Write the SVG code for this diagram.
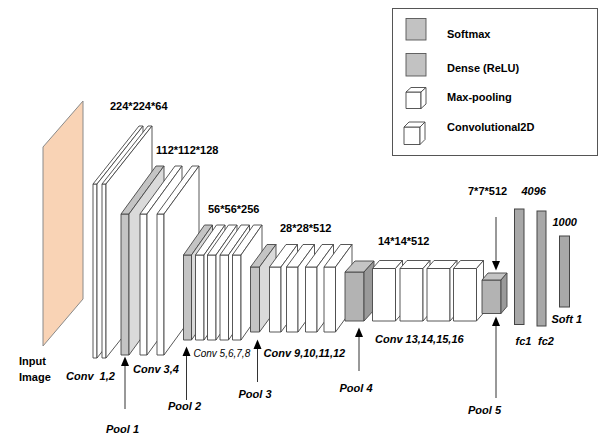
<svg xmlns="http://www.w3.org/2000/svg" width="605" height="435" viewBox="0 0 605 435">
<defs>
<style>
text{font-family:"Liberation Sans",Arial,sans-serif;font-size:11px;font-weight:bold;fill:#000}
.it{font-style:italic}
.thin{font-weight:normal;font-size:10px}
.pre{white-space:pre}
.s{stroke:#454545;stroke-width:0.9;stroke-linejoin:round}
.w{fill:#fff}
.g{fill:#c4c4c4}
.gs{fill:#dadada}
.p{fill:#b3b3b3}
.pt{fill:#c4c4c4}
.ps{fill:#9a9a9a}
.fc{fill:#a8a8a8;stroke:#444;stroke-width:1}
.arr line{stroke:#333;stroke-width:1}
.arr polygon{fill:#000}
</style>
</defs>
<rect width="605" height="435" fill="#fff"/>

<g id="legend">
<rect x="392.5" y="8.5" width="205" height="147" fill="#fff" stroke="#555" stroke-width="1"/>
<rect x="406" y="18.5" width="20" height="21.5" fill="#c2c2c2" stroke="#555" stroke-width="0.9"/>
<text x="447" y="38">Softmax</text>
<rect x="406" y="53.5" width="20" height="22.5" fill="#c2c2c2" stroke="#555" stroke-width="0.9"/>
<text x="447" y="71.5">Dense (ReLU)</text>
<g class="s">
<rect class="w" x="406" y="92" width="15" height="16.5"/>
<polygon class="w" points="406,92 421,92 426,87.5 411,87.5"/>
<polygon class="w" points="421,92 426,87.5 426,104 421,108.5"/>
</g>
<text x="447" y="100.5">Max-pooling</text>
<g class="s">
<rect class="w" x="404" y="127" width="16" height="17.5"/>
<polygon class="w" points="404,127 420,127 425,122 409,122"/>
<polygon class="w" points="420,127 425,122 425,139.5 420,144.5"/>
</g>
<text x="447" y="130.5">Convolutional2D</text>
</g>

<g id="input-image">
<polygon points="43,147 83,101 83,299 43,346" fill="#f9d3b5" stroke="#8a8a8a" stroke-width="1"/>
<text x="19" y="365">Input</text>
<text x="19" y="381">Image</text>
</g>

<g id="conv1-2" class="s">
<rect class="w" x="93" y="184" width="4" height="174"/>
<polygon class="w" points="93,184 97,184 143,126 139,126"/>
<polygon class="w" points="97,184 143,126 143,300 97,358"/>
<rect class="w" x="102" y="184" width="4" height="174"/>
<polygon class="w" points="102,184 106,184 152,126 148,126"/>
<polygon class="w" points="106,184 152,126 152,300 106,358"/>
</g>

<g id="conv3-4" class="s">
<rect class="g" x="121" y="214" width="8" height="141"/>
<polygon class="g" points="121,214 129,214 164,166 156,166"/>
<polygon class="gs" points="129,214 164,166 164,307 129,355"/>
<rect class="w" x="140" y="214" width="7" height="141"/>
<polygon class="w" points="140,214 147,214 182,166 175,166"/>
<polygon class="w" points="147,214 182,166 182,307 147,355"/>
<rect class="w" x="157" y="214" width="7" height="141"/>
<polygon class="w" points="157,214 164,214 199,166 192,166"/>
<polygon class="w" points="164,214 199,166 199,307 164,355"/>
</g>

<g id="conv5-8" class="s">
<rect class="g" x="183.5" y="255" width="8" height="85"/>
<polygon class="g" points="183.5,255 191.5,255 212.5,225 204.5,225"/>
<polygon class="gs" points="191.5,255 212.5,225 212.5,310 191.5,340"/>
<rect class="w" x="195.5" y="255" width="8.5" height="85"/>
<polygon class="w" points="195.5,255 204,255 225,225 216.5,225"/>
<polygon class="w" points="204,255 225,225 225,310 204,340"/>
<rect class="w" x="207.5" y="255" width="8.5" height="85"/>
<polygon class="w" points="207.5,255 216,255 237,225 228.5,225"/>
<polygon class="w" points="216,255 237,225 237,310 216,340"/>
<rect class="w" x="220" y="255" width="8.5" height="85"/>
<polygon class="w" points="220,255 228.5,255 249.5,225 241,225"/>
<polygon class="w" points="228.5,255 249.5,225 249.5,310 228.5,340"/>
<rect class="w" x="232.5" y="255" width="8.5" height="85"/>
<polygon class="w" points="232.5,255 241,255 262,225 253.5,225"/>
<polygon class="w" points="241,255 262,225 262,310 241,340"/>
</g>

<g id="conv9-12" class="s">
<rect class="g" x="250.5" y="267" width="9" height="65"/>
<polygon class="g" points="250.5,267 259.5,267 276,244.5 267,244.5"/>
<polygon class="gs" points="259.5,267 276,244.5 276,309.5 259.5,332"/>
<rect class="w" x="269.5" y="267" width="11.5" height="65"/>
<polygon class="w" points="269.5,267 281,267 297.5,244.5 286,244.5"/>
<polygon class="w" points="281,267 297.5,244.5 297.5,309.5 281,332"/>
<rect class="w" x="286.5" y="267" width="11.5" height="65"/>
<polygon class="w" points="286.5,267 298,267 314.5,244.5 303,244.5"/>
<polygon class="w" points="298,267 314.5,244.5 314.5,309.5 298,332"/>
<rect class="w" x="305.5" y="267" width="11.5" height="65"/>
<polygon class="w" points="305.5,267 317,267 333.5,244.5 322,244.5"/>
<polygon class="w" points="317,267 333.5,244.5 333.5,309.5 317,332"/>
<rect class="w" x="324" y="267" width="11.5" height="65"/>
<polygon class="w" points="324,267 335.5,267 352,244.5 340.5,244.5"/>
<polygon class="w" points="335.5,267 352,244.5 352,309.5 335.5,332"/>
</g>

<g id="pool4" class="s">
<rect class="p" x="345" y="272" width="19" height="49"/>
<polygon class="pt" points="345,272 364,272 374,261 355,261"/>
<polygon class="ps" points="364,272 374,261 374,310 364,321"/>
</g>

<g id="conv13-16" class="s">
<rect class="w" x="372.5" y="268.5" width="23" height="52.5"/>
<polygon class="w" points="372.5,268.5 395.5,268.5 402.5,260.5 379.5,260.5"/>
<polygon class="w" points="395.5,268.5 402.5,260.5 402.5,313 395.5,321"/>
<rect class="w" x="400" y="268.5" width="23" height="52.5"/>
<polygon class="w" points="400,268.5 423,268.5 430,260.5 407,260.5"/>
<polygon class="w" points="423,268.5 430,260.5 430,313 423,321"/>
<rect class="w" x="427" y="268.5" width="23" height="52.5"/>
<polygon class="w" points="427,268.5 450,268.5 457,260.5 434,260.5"/>
<polygon class="w" points="450,268.5 457,260.5 457,313 450,321"/>
<rect class="w" x="453.5" y="268.5" width="23" height="52.5"/>
<polygon class="w" points="453.5,268.5 476.5,268.5 483.5,260.5 460.5,260.5"/>
<polygon class="w" points="476.5,268.5 483.5,260.5 483.5,313 476.5,321"/>
</g>

<g id="pool5" class="s">
<rect class="p" x="482" y="280" width="19" height="33.5"/>
<polygon class="pt" points="482,280 501,280 507,273 488,273"/>
<polygon class="ps" points="501,280 507,273 507,306.5 501,313.5"/>
</g>

<g id="fc1"><rect class="fc" x="514.5" y="209" width="9.5" height="115.5"/></g>
<g id="fc2"><rect class="fc" x="537" y="211" width="9" height="115"/></g>
<g id="soft1"><rect class="fc" x="559.5" y="236" width="10" height="71"/></g>

<g id="connectors" class="arr">
<line x1="125" y1="409" x2="125" y2="364"/>
<polygon points="125,356.5 121,366 129,366"/>
<line x1="186.5" y1="400" x2="186.5" y2="354"/>
<polygon points="186.5,346.5 182.5,356 190.5,356"/>
<line x1="257.5" y1="382" x2="257.5" y2="347"/>
<polygon points="257.5,339.5 253.5,349 261.5,349"/>
<line x1="359" y1="371" x2="359" y2="335"/>
<polygon points="359,327.5 355,337 363,337"/>
<line x1="496" y1="217" x2="496" y2="263"/>
<polygon points="496,270.5 492,261 500,261"/>
<line x1="496" y1="398" x2="496" y2="324"/>
<polygon points="496,316.5 492,326 500,326"/>
</g>

<g id="labels">
<text x="110" y="110">224*224*64</text>
<text x="156" y="154">112*112*128</text>
<text x="208" y="213">56*56*256</text>
<text x="280" y="232">28*28*512</text>
<text x="378" y="245">14*14*512</text>
<text x="468" y="195">7*7*512</text>
<text class="it" x="521.5" y="195">4096</text>
<text class="it" x="552.5" y="226">1000</text>
<text class="it" x="551.5" y="323">Soft 1</text>
<text class="it" x="515.5" y="345">fc1</text>
<text class="it" x="538" y="345">fc2</text>
<text class="it pre" x="66" y="380">Conv  1,2</text>
<text class="it" x="133" y="373">Conv 3,4</text>
<text class="it thin" x="193.5" y="357">Conv 5,6,7,8</text>
<text class="it" x="263.5" y="357">Conv 9,10,11,12</text>
<text class="it" x="375" y="343">Conv 13,14,15,16</text>
<text class="it" x="106" y="433">Pool 1</text>
<text class="it" x="168" y="410">Pool 2</text>
<text class="it" x="238.5" y="398">Pool 3</text>
<text class="it" x="339.5" y="392">Pool 4</text>
<text class="it" x="468" y="414">Pool 5</text>
</g>
</svg>
